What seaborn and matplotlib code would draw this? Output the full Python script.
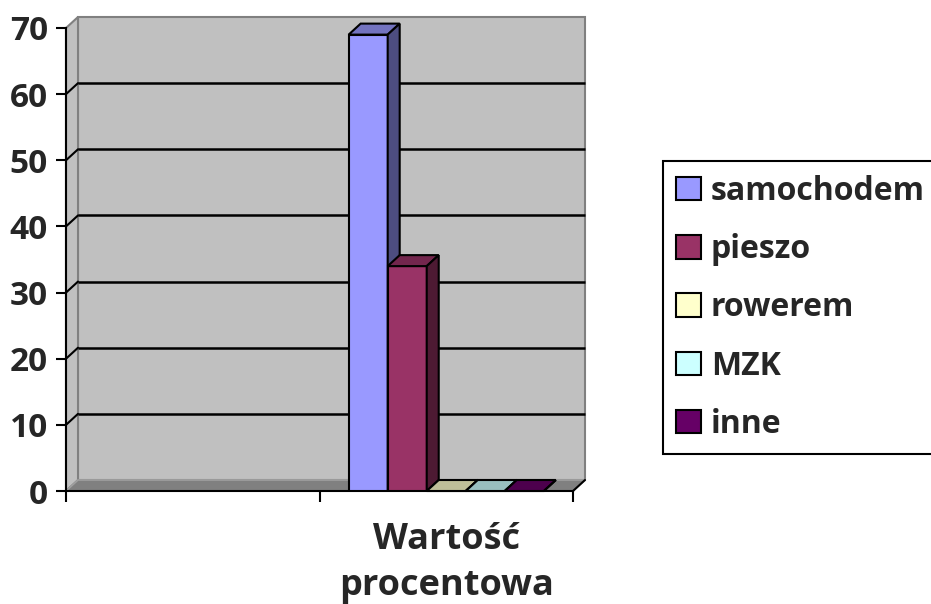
import numpy as np
import pandas as pd
import matplotlib
matplotlib.use('Agg')
import matplotlib.pyplot as plt
import seaborn as sns
from matplotlib.patches import Polygon, Patch, Rectangle

# dane
categories = ['', 'Wartość procentowa']
modes = ['samochodem', 'pieszo', 'rowerem', 'MZK', 'inne']
values = [69, 34, 0, 0, 0]
front_colors = ['#9999FF', '#993366', '#FFFFCC', '#CCFFFF', '#660066']
y_ticks = [0, 10, 20, 30, 40, 50, 60, 70]

df = pd.DataFrame({'kategoria': [categories[1]] * len(modes),
                   'sposob': modes,
                   'wartosc': values})

sns.set_style('white')
plt.rcParams['font.family'] = ['Open Sans', 'DejaVu Sans']
plt.rcParams['font.weight'] = 'bold'
FS_TICK = 24
FS_LEG = 23
FS_CAT = 26

W, H = 931, 604
fig = plt.figure(figsize=(W / 100, H / 100), dpi=100)
ax_l, ax_r, ax_b, ax_t = 66, 573, 491, 28
ax = fig.add_axes([ax_l / W, (H - ax_b) / H, (ax_r - ax_l) / W, (ax_b - ax_t) / H])

sns.barplot(data=df, x='kategoria', y='wartosc', hue='sposob', order=categories,
            hue_order=modes, palette=front_colors, width=0.77, saturation=1,
            edgecolor='black', linewidth=1.5, errorbar=None, legend=False, ax=ax)
bars = [p for p in ax.patches]

ax.set_xlim(-0.5, 1.5)
ax.set_ylim(0, 70)
ax.patch.set_visible(False)

# glebokosc 3D w jednostkach danych
dx_px, dy_px = 12, 11
dxd = dx_px * 2.0 / (ax_r - ax_l)
dyd = dy_px * 70.0 / (ax_b - ax_t)

# sciany
ax.add_patch(Rectangle((-0.5 + dxd, dyd), 2, 70, facecolor='#C0C0C0', edgecolor='#808080',
                       linewidth=1.5, zorder=0.1, clip_on=False))
ax.add_patch(Polygon([(-0.5, 0), (-0.5, 70), (-0.5 + dxd, 70 + dyd), (-0.5 + dxd, dyd)],
                     closed=True, facecolor='#C0C0C0', edgecolor='#808080', linewidth=1.5,
                     zorder=0.2, clip_on=False))
ax.add_patch(Polygon([(-0.5, 0), (1.5, 0), (1.5 + dxd, dyd), (-0.5 + dxd, dyd)],
                     closed=True, facecolor='#808080', edgecolor='#A0A0A0', linewidth=1.2,
                     zorder=0.3, clip_on=False))
for v in y_ticks[1:-1]:
    ax.plot([-0.5 + dxd, 1.5 + dxd], [v + dyd, v + dyd], color='black', lw=1.8,
            zorder=0.5, clip_on=False, solid_capstyle='butt')
    ax.plot([-0.5, -0.5 + dxd], [v, v + dyd], color='black', lw=1.5, zorder=0.5, clip_on=False)
ax.plot([1.5, 1.5 + dxd], [0, dyd], color='black', lw=1.5, zorder=0.6, clip_on=False)


def shade(c, f):
    r, g, b = matplotlib.colors.to_rgb(c)
    return (r * f, g * f, b * f)


# boki i wierzch slupkow
for i, p in enumerate(bars):
    x0, w, h = p.get_x(), p.get_width(), p.get_height()
    c = p.get_facecolor()
    z = 2 + i
    p.set_zorder(z)
    ax.add_patch(Polygon([(x0, h), (x0 + w, h), (x0 + w + dxd, h + dyd), (x0 + dxd, h + dyd)],
                         closed=True, facecolor=shade(c, 0.75), edgecolor='black',
                         linewidth=1.5, zorder=z, clip_on=False))
    ax.add_patch(Polygon([(x0 + w, 0), (x0 + w + dxd, dyd), (x0 + w + dxd, h + dyd), (x0 + w, h)],
                         closed=True, facecolor=shade(c, 0.5), edgecolor='black',
                         linewidth=1.5, zorder=z, clip_on=False))

sns.despine(ax=ax, top=True, right=True)
for s in ['left', 'bottom']:
    ax.spines[s].set_color('black')
    ax.spines[s].set_linewidth(1.5)
    ax.spines[s].set_zorder(1)

ax.set_yticks(y_ticks)
ax.set_yticklabels([str(t) for t in y_ticks], fontsize=FS_TICK, fontweight='bold')
ax.tick_params(axis='y', direction='out', length=7, width=1.5, color='black', pad=6, left=True)
ax.set_xticks([-0.5, 0.5, 1.5])
ax.set_xticklabels(['', '', ''])
ax.tick_params(axis='x', which='major', direction='out', length=8, width=1.5, color='black', bottom=True)
ax.set_xticks([0, 1], minor=True)
ax.set_xticklabels([c.replace(' ', '\n') for c in categories], minor=True,
                   fontsize=FS_CAT, fontweight='bold', linespacing=1.4)
ax.tick_params(axis='x', which='minor', length=0, pad=22)
ax.set_xlabel('')
ax.set_ylabel('')

# legenda wychodzi poza prawa krawedz, jak w oryginale
handles = [Patch(facecolor=c, edgecolor='black', linewidth=1.5, label=m)
           for m, c in zip(modes, front_colors)]
leg = fig.legend(handles=handles, loc='upper left', mode='expand',
                 bbox_to_anchor=(663 / W, 1 - 162 / H, 280 / W, 0.001),
                 frameon=True, fancybox=False, edgecolor='black', framealpha=1,
                 borderaxespad=0, borderpad=0.42, handlelength=0.78, handleheight=0.75,
                 handletextpad=0.3, labelspacing=0.79,
                 prop={'size': FS_LEG, 'weight': 'bold'})
leg.get_frame().set_linewidth(1.5)

fig.savefig('out.png', dpi=100)
